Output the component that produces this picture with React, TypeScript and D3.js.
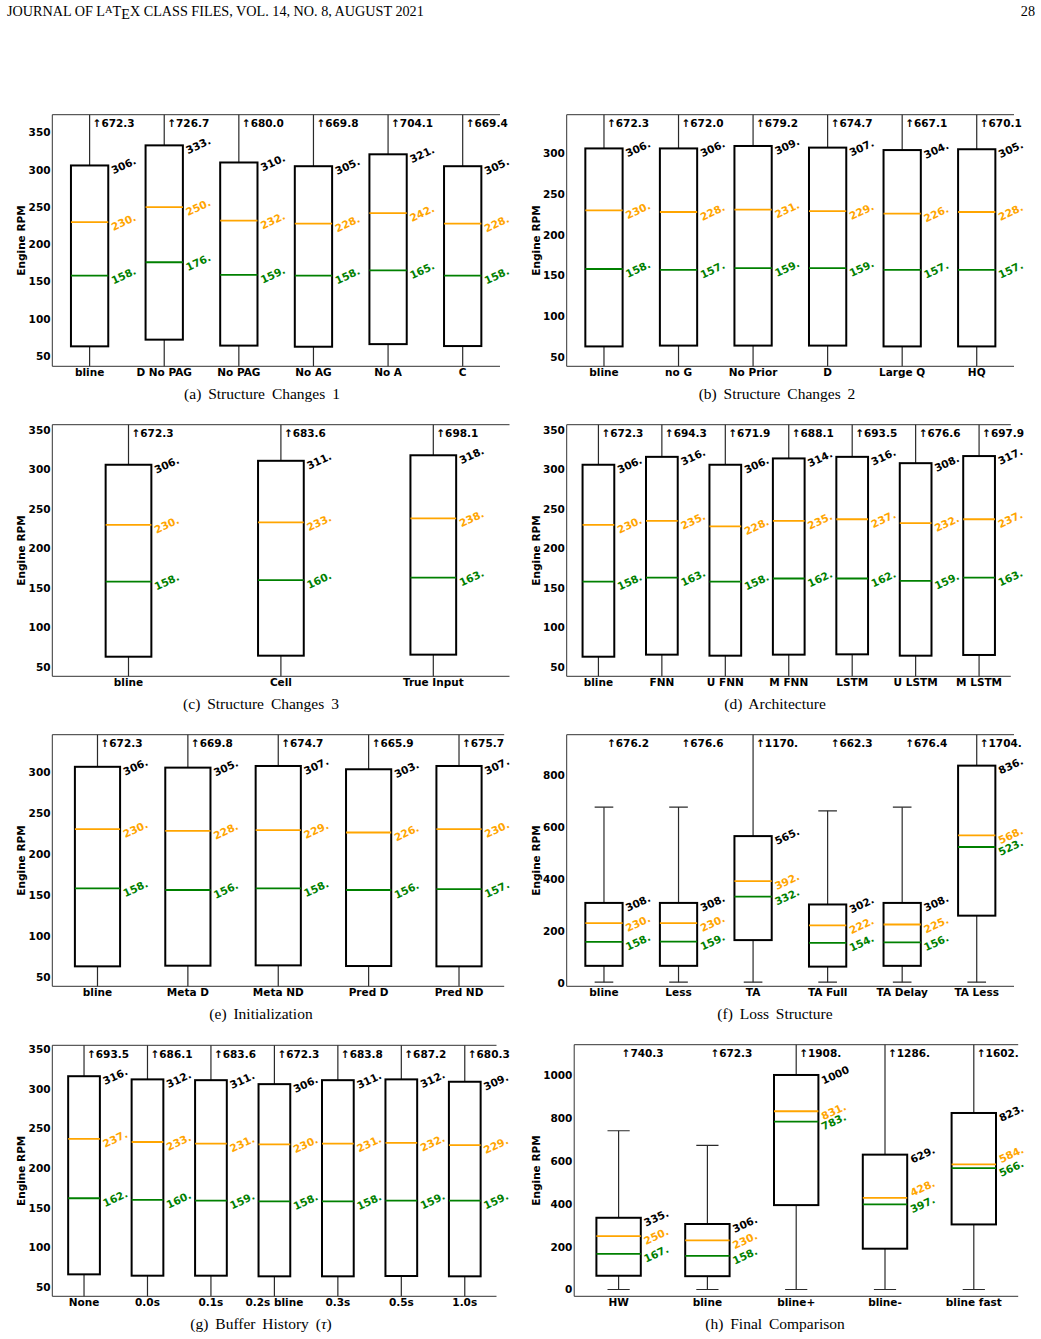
import React, { useEffect, useRef } from "react";
import * as d3 from "d3";

// ---------- (a) Structure Changes 1 ----------
const catsA = ["bline", "D No PAG", "No PAG", "No AG", "No A", "C"];
const topA = [672.3, 726.7, 680.0, 669.8, 704.1, 669.4];
const q3A = [306, 333, 310, 305, 321, 305];
const meanA = [230, 250, 232, 228, 242, 228];
const medA = [158, 176, 159, 158, 165, 158];
const q1A = [63, 72, 64, 62.5, 66, 63.4];
const lowA = [3, 3, 3, 3, 3, 3];

// ---------- (b) Structure Changes 2 ----------
const catsB = ["bline", "no G", "No Prior", "D", "Large Q", "HQ"];
const topB = [672.3, 672.0, 679.2, 674.7, 667.1, 670.1];
const q3B = [306, 306, 309, 307, 304, 305];
const meanB = [230, 228, 231, 229, 226, 228];
const medB = [158, 157, 159, 159, 157, 157];
const q1B = [63, 64, 64, 64, 63, 63];
const lowB = [3, 3, 3, 3, 3, 3];

// ---------- (c) Structure Changes 3 ----------
const catsC = ["bline", "Cell", "True Input"];
const topC = [672.3, 683.6, 698.1];
const q3C = [306, 311, 318];
const meanC = [230, 233, 238];
const medC = [158, 160, 163];
const q1C = [63, 64.3, 65.6];
const lowC = [3, 3, 3];

// ---------- (d) Architecture ----------
const catsD = ["bline", "FNN", "U FNN", "M FNN", "LSTM", "U LSTM", "M LSTM"];
const topD = [672.3, 694.3, 671.9, 688.1, 693.5, 676.6, 697.9];
const q3D = [306, 316, 306, 314, 316, 308, 317];
const meanD = [230, 235, 228, 235, 237, 232, 237];
const medD = [158, 163, 158, 162, 162, 159, 163];
const q1D = [63, 65.6, 64.3, 65.6, 66, 64.3, 65.2];
const lowD = [3, 3, 3, 3, 3, 3, 3];

// ---------- (e) Initialization ----------
const catsE = ["bline", "Meta D", "Meta ND", "Pred D", "Pred ND"];
const topE = [672.3, 669.8, 674.7, 665.9, 675.7];
const q3E = [306, 305, 307, 303, 307];
const meanE = [230, 228, 229, 226, 230];
const medE = [158, 156, 158, 156, 157];
const q1E = [63, 63.8, 64.2, 63.4, 63];
const lowE = [3, 3, 3, 3, 3];

// ---------- (f) Loss Structure ----------
const catsF = ["bline", "Less", "TA", "TA Full", "TA Delay", "TA Less"];
const topF = [676.2, 676.6, 1170, 662.3, 676.4, 1704];
const q3F = [308, 308, 565, 302, 308, 836];
const meanF = [230, 230, 392, 222, 225, 568];
const medF = [158, 159, 332, 154, 156, 523];
const q1F = [66, 66, 165, 63, 66, 259];
const lowF = [3, 3, 3, 3, 3, 3];

// ---------- (g) Buffer History ----------
const catsG = ["None", "0.0s", "0.1s", "0.2s bline", "0.3s", "0.5s", "1.0s"];
const topG = [693.5, 686.1, 683.6, 672.3, 683.8, 687.2, 680.3];
const q3G = [316, 312, 311, 306, 311, 312, 309];
const meanG = [237, 233, 231, 230, 231, 232, 229];
const medG = [162, 160, 159, 158, 158, 159, 159];
const q1G = [66, 64.3, 64.3, 63.5, 63.5, 63.9, 63.5];
const lowG = [3, 3, 3, 3, 3, 3, 3];

// ---------- (h) Final Comparison ----------
const catsH = ["HW", "bline", "bline+", "bline-", "bline fast"];
const topH = [740.3, 672.3, 1908, 1286, 1602];
const q3H = [335, 306, 1000, 629, 823];
const meanH = [250, 230, 831, 428, 584];
const medH = [167, 158, 783, 397, 566];
const q1H = [65, 63, 394, 191, 304];
const lowH = [1, 1, 1, 1, 1];

// y-axis tick values
const ticks350 = [50, 100, 150, 200, 250, 300, 350];
const ticks300 = [50, 100, 150, 200, 250, 300];
const ticks800 = [0, 200, 400, 600, 800];
const ticks1000 = [0, 200, 400, 600, 800, 1000];

const W = 1041;
const H = 1339;
const SANS = "'DejaVu Sans', 'Liberation Sans', sans-serif";
const SERIF = "'Liberation Serif', 'Times New Roman', serif";
const FS = 10.5;
const ORANGE = "#FFA500";
const GREEN = "#008000";

type Panel = {
  cats: string[];
  top: number[];
  q3: number[];
  mean: number[];
  med: number[];
  q1: number[];
  low: number[];
  yDomain: [number, number];
  yTicks: number[];
  caption: string;
  frame: { x0: number; x1: number; y0: number; y1: number };
  capX: number;
  capY: number;
  yLabelX: number;
  // vertical nudge (px) of the mean label, to keep it clear of the median label
  meanNudge?: number[];
};

const panels: Panel[] = [
  {
    cats: catsA, top: topA, q3: q3A, mean: meanA, med: medA, q1: q1A, low: lowA,
    yDomain: [36.2, 374.2], yTicks: ticks350, caption: "(a) Structure Changes 1",
    frame: { x0: 52.3, x1: 500, y0: 114.7, y1: 366.3 }, capX: 262, capY: 399, yLabelX: 21.7,
  },
  {
    cats: catsB, top: topB, q3: q3B, mean: meanB, med: medB, q1: q1B, low: lowB,
    yDomain: [38.6, 347.4], yTicks: ticks300, caption: "(b) Structure Changes 2",
    frame: { x0: 566.7, x1: 1014, y0: 114.7, y1: 366.3 }, capX: 777, capY: 399, yLabelX: 536,
  },
  {
    cats: catsC, top: topC, q3: q3C, mean: meanC, med: medC, q1: q1C, low: lowC,
    yDomain: [38.2, 356.7], yTicks: ticks350, caption: "(c) Structure Changes 3",
    frame: { x0: 52.3, x1: 509.5, y0: 424.7, y1: 676.3 }, capX: 261, capY: 709, yLabelX: 21.7,
  },
  {
    cats: catsD, top: topD, q3: q3D, mean: meanD, med: medD, q1: q1D, low: lowD,
    yDomain: [38.2, 356.7], yTicks: ticks350, caption: "(d) Architecture",
    frame: { x0: 566.7, x1: 1010.8, y0: 424.7, y1: 676.3 }, capX: 775, capY: 709, yLabelX: 536,
  },
  {
    cats: catsE, top: topE, q3: q3E, mean: meanE, med: medE, q1: q1E, low: lowE,
    yDomain: [38.7, 345.1], yTicks: ticks300, caption: "(e) Initialization",
    frame: { x0: 52.3, x1: 504.2, y0: 734.7, y1: 986.3 }, capX: 261, capY: 1019, yLabelX: 21.7,
  },
  {
    cats: catsF, top: topF, q3: q3F, mean: meanF, med: medF, q1: q1F, low: lowF,
    yDomain: [-12.7, 955], yTicks: ticks800, caption: "(f) Loss Structure",
    frame: { x0: 566.7, x1: 1014, y0: 734.7, y1: 986.3 }, capX: 775, capY: 1019, yLabelX: 536,
  },
  {
    cats: catsG, top: topG, q3: q3G, mean: meanG, med: medG, q1: q1G, low: lowG,
    yDomain: [38.3, 355], yTicks: ticks350, caption: "(g) Buffer History (τ)",
    frame: { x0: 52.3, x1: 496.5, y0: 1045.3, y1: 1296.3 }, capX: 261, capY: 1329, yLabelX: 21.7,
  },
  {
    cats: catsH, top: topH, q3: q3H, mean: meanH, med: medH, q1: q1H, low: lowH,
    yDomain: [-30.7, 1141], yTicks: ticks1000, caption: "(h) Final Comparison",
    frame: { x0: 574.2, x1: 1018.2, y0: 1044.7, y1: 1296.3 }, capX: 775, capY: 1329, yLabelX: 536,
    meanNudge: [0, 0, 0, -10, -10],
  },
];

// Truncated number text, e.g. 306 -> "306.", 672.3 -> "672.3", 1000 -> "1000"
const fmt = (v: number, n: number) => v.toFixed(1).slice(0, n);

export default function App() {
  const ref = useRef<SVGSVGElement | null>(null);

  useEffect(() => {
    const svg = d3.select(ref.current);
    svg.selectAll("*").remove();
    const defs = svg.append("defs");

    // running header
    const HFS = 14.2;
    const hdr = svg
      .append("text")
      .attr("x", 7)
      .attr("y", 16)
      .attr("font-family", SERIF)
      .attr("font-size", HFS)
      .attr("fill", "#000");
    hdr.append("tspan").text("JOURNAL OF L");
    hdr.append("tspan").attr("dy", -3).attr("font-size", 10.4).text("A");
    hdr.append("tspan").attr("dy", 3).text("T");
    hdr.append("tspan").attr("dy", 3).text("E");
    hdr.append("tspan").attr("dy", -3).text("X CLASS FILES, VOL. 14, NO. 8, AUGUST 2021");
    svg
      .append("text")
      .attr("x", 1035)
      .attr("y", 16)
      .attr("text-anchor", "end")
      .attr("font-family", SERIF)
      .attr("font-size", HFS)
      .text("28");

    const rot = (25 * Math.PI) / 180;

    panels.forEach((p, pi) => {
      const n = p.cats.length;
      const { x0, x1, y0, y1 } = p.frame;
      const x = d3.scaleLinear().domain([0.5, n + 0.5]).range([x0, x1]);
      const y = d3.scaleLinear().domain(p.yDomain).range([y1, y0]);
      const bw = Math.min(0.5, Math.max(0.15, 0.15 * (n - 1)));

      const clipId = `plot-clip-${pi}`;
      defs
        .append("clipPath")
        .attr("id", clipId)
        .append("rect")
        .attr("x", x0)
        .attr("y", y0)
        .attr("width", x1 - x0)
        .attr("height", y1 - y0);

      const g = svg.append("g");
      const marks = g.append("g").attr("clip-path", `url(#${clipId})`);

      p.cats.forEach((_, j) => {
        const pos = j + 1;
        const cx = x(pos);
        const xl = x(pos - bw / 2);
        const xr = x(pos + bw / 2);
        const cl = x(pos - bw / 4);
        const cr = x(pos + bw / 4);

        // whiskers and caps
        const wh = [
          [p.q3[j], p.top[j]],
          [p.q1[j], p.low[j]],
        ];
        wh.forEach(([a, b]) => {
          marks
            .append("line")
            .attr("x1", cx).attr("x2", cx)
            .attr("y1", y(a)).attr("y2", y(b))
            .attr("stroke", "#2a2a2a").attr("stroke-width", 1.2);
          marks
            .append("line")
            .attr("x1", cl).attr("x2", cr)
            .attr("y1", y(b)).attr("y2", y(b))
            .attr("stroke", "#2a2a2a").attr("stroke-width", 1.2);
        });

        // box
        marks
          .append("rect")
          .attr("x", xl)
          .attr("y", y(p.q3[j]))
          .attr("width", xr - xl)
          .attr("height", y(p.q1[j]) - y(p.q3[j]))
          .attr("fill", "none")
          .attr("stroke", "#000")
          .attr("stroke-width", 2);

        // mean and median lines
        marks
          .append("line")
          .attr("x1", xl).attr("x2", xr)
          .attr("y1", y(p.mean[j])).attr("y2", y(p.mean[j]))
          .attr("stroke", ORANGE).attr("stroke-width", 1.8);
        marks
          .append("line")
          .attr("x1", xl).attr("x2", xr)
          .attr("y1", y(p.med[j])).attr("y2", y(p.med[j]))
          .attr("stroke", GREEN).attr("stroke-width", 1.8);

        // top-of-whisker value
        g.append("text")
          .attr("x", cx + 3)
          .attr("y", y0 + 12.6)
          .attr("font-family", SANS)
          .attr("font-weight", "bold")
          .attr("font-size", FS)
          .attr("fill", "#000")
          .text("↑" + fmt(p.top[j], 5));

        // rotated value labels at the right edge of the box
        const labels: [number, string, number][] = [
          [p.q3[j], "#000", 0],
          [p.mean[j], ORANGE, p.meanNudge ? p.meanNudge[j] : 0],
          [p.med[j], GREEN, 0],
        ];
        labels.forEach(([v, col, nudge]) => {
          const t = g
            .append("text")
            .attr("font-family", SANS)
            .attr("font-weight", "bold")
            .attr("font-size", FS)
            .attr("fill", col)
            .attr("text-anchor", "middle")
            .attr("dy", "0.36em")
            .text(fmt(v, 4));
          const node = t.node() as SVGTextElement;
          const w = node.getComputedTextLength();
          const hInk = FS * 0.73;
          const bbW = w * Math.cos(rot) + hInk * Math.sin(rot);
          const lx = xr + 2 + bbW / 2;
          t.attr("transform", `translate(${lx},${y(v) + nudge}) rotate(-25)`);
        });
      });

      // spines: left, bottom, top
      const spine = (xa: number, ya: number, xb: number, yb: number) =>
        g
          .append("line")
          .attr("x1", xa).attr("y1", ya)
          .attr("x2", xb).attr("y2", yb)
          .attr("stroke", "#333")
          .attr("stroke-width", 1);
      spine(x0, y0, x0, y1);
      spine(x0, y1, x1, y1);
      spine(x0, y0, x1, y0);

      // y tick labels
      p.yTicks.forEach((tv) => {
        g.append("text")
          .attr("x", x0 - 1.8)
          .attr("y", y(tv))
          .attr("dy", "0.36em")
          .attr("text-anchor", "end")
          .attr("font-family", SANS)
          .attr("font-weight", "bold")
          .attr("font-size", FS)
          .attr("fill", "#000")
          .text(String(tv));
      });

      // category labels
      p.cats.forEach((c, j) => {
        g.append("text")
          .attr("x", x(j + 1))
          .attr("y", y1 + 9.5)
          .attr("text-anchor", "middle")
          .attr("font-family", SANS)
          .attr("font-weight", "bold")
          .attr("font-size", FS)
          .attr("fill", "#000")
          .text(c);
      });

      // y axis title
      g.append("text")
        .attr("transform", `translate(${p.yLabelX},${(y0 + y1) / 2}) rotate(-90)`)
        .attr("text-anchor", "middle")
        .attr("dy", "0.36em")
        .attr("font-family", SANS)
        .attr("font-weight", "bold")
        .attr("font-size", FS)
        .attr("fill", "#000")
        .text("Engine RPM");

      // sub-caption
      const cap = g
        .append("text")
        .attr("x", p.capX)
        .attr("y", p.capY)
        .attr("text-anchor", "middle")
        .attr("font-family", SERIF)
        .attr("font-size", 15.5)
        .attr("word-spacing", 3)
        .attr("fill", "#000");
      const m = p.caption.match(/^(.*)τ(.*)$/);
      if (m) {
        cap.append("tspan").text(m[1]);
        cap.append("tspan").attr("font-style", "italic").text("τ");
        cap.append("tspan").text(m[2]);
      } else {
        cap.text(p.caption);
      }
    });
  }, []);

  return (
    <svg
      ref={ref}
      width={W}
      height={H}
      viewBox={`0 0 ${W} ${H}`}
      style={{ position: "absolute", left: 0, top: 0, background: "#fff" }}
    />
  );
}
